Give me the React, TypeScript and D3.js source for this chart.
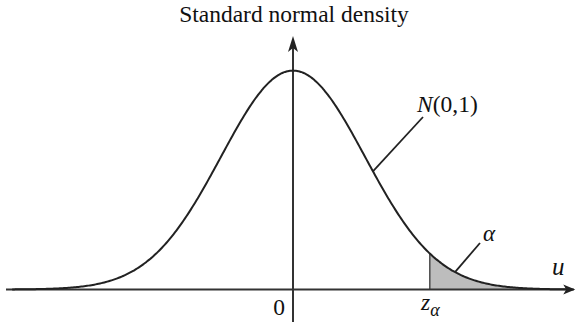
import React from "react";
import * as d3 from "d3";

// Standard normal N(0,1) with an upper-tail region of probability alpha
const zAlpha = 1.9;
const uDomain = [-4, 4];
const densityDomain = [0, 0.4];
const curveRange = [-3.9, 3.9];
const axisEnd = 3.92;
const leaderCurveAt = 1.11;
const alphaLeaderAt = 2.25;

const titleText = "Standard normal density";
const curveLabel = "(0,1)";

const W = 577;
const H = 326;

const phi = (u: number) => Math.exp(-0.5 * u * u) / Math.sqrt(2 * Math.PI);

export default function App() {
  const x = d3.scaleLinear().domain(uDomain).range([5, 581]);
  const y = d3.scaleLinear().domain(densityDomain).range([289.5, 70]);

  const samples = d3.range(curveRange[0], curveRange[1] + 1e-9, 0.02);
  const line = d3
    .line<number>()
    .x((u) => x(u))
    .y((u) => y(phi(u)))
    .curve(d3.curveBasis);

  const tail = d3.range(zAlpha, curveRange[1] + 1e-9, 0.02);
  const area = d3
    .area<number>()
    .x((u) => x(u))
    .y0(y(0))
    .y1((u) => y(phi(u)));

  const x0 = x(0);
  const yAxis = y(0);
  const xTip = x(axisEnd);
  const yTip = 36;

  const lx = x(leaderCurveAt);
  const ly = y(phi(leaderCurveAt));
  const ax = x(alphaLeaderAt);
  const ay = y(phi(alphaLeaderAt));

  const ink = "#222";
  const textStyle = { fontFamily: `"Liberation Serif"` };

  return (
    <svg
      width={W}
      height={H}
      viewBox={`0 0 ${W} ${H}`}
      style={{ position: "absolute", left: 0, top: 0, background: "#fff" }}
    >
      {/* shaded upper tail */}
      <path d={area(tail) || ""} fill="#bdbdbd" stroke="none" />
      <line
        x1={x(zAlpha)}
        x2={x(zAlpha)}
        y1={yAxis}
        y2={y(phi(zAlpha))}
        stroke="#555"
        strokeWidth={1.6}
      />

      {/* horizontal axis with arrow */}
      <line x1={6} x2={xTip - 8} y1={yAxis} y2={yAxis} stroke="#333" strokeWidth={2} />
      <path
        d={`M${xTip},${yAxis} L${xTip - 12},${yAxis - 5} L${xTip - 9},${yAxis} L${xTip - 12},${yAxis + 5} Z`}
        fill={ink}
      />

      {/* vertical axis with arrow */}
      <line x1={x0} x2={x0} y1={322} y2={yTip + 8} stroke="#333" strokeWidth={2} />
      <path
        d={`M${x0},${yTip} L${x0 - 5},${yTip + 16} L${x0},${yTip + 12} L${x0 + 5},${yTip + 16} Z`}
        fill={ink}
      />

      {/* density curve */}
      <path d={line(samples) || ""} fill="none" stroke={ink} strokeWidth={2} />

      {/* leader lines */}
      <line x1={lx} y1={ly} x2={423} y2={117} stroke={ink} strokeWidth={1.8} />
      <line x1={ax} y1={ay} x2={480} y2={243} stroke={ink} strokeWidth={1.8} />

      {/* texts */}
      <g style={textStyle} fill="#111">
        <text x={294} y={22} textAnchor="middle" style={textStyle} fontSize={23.5}>
          {titleText}
        </text>
        <text x={417} y={112} style={textStyle} fontSize={23.5}>
          <tspan fontStyle="italic">N</tspan>
          <tspan>{curveLabel}</tspan>
        </text>
        <text x={483} y={241} style={textStyle} fontSize={23} fontStyle="italic">
          α
        </text>
        <text x={552} y={275} style={textStyle} fontSize={25} fontStyle="italic">
          u
        </text>
        <text x={x0 - 8} y={315} textAnchor="end" style={textStyle} fontSize={23.5}>
          0
        </text>
        <text x={421} y={310} style={textStyle} fontSize={23.5} fontStyle="italic">
          z
          <tspan fontSize={18} dy={6}>
            α
          </tspan>
        </text>
      </g>
    </svg>
  );
}
